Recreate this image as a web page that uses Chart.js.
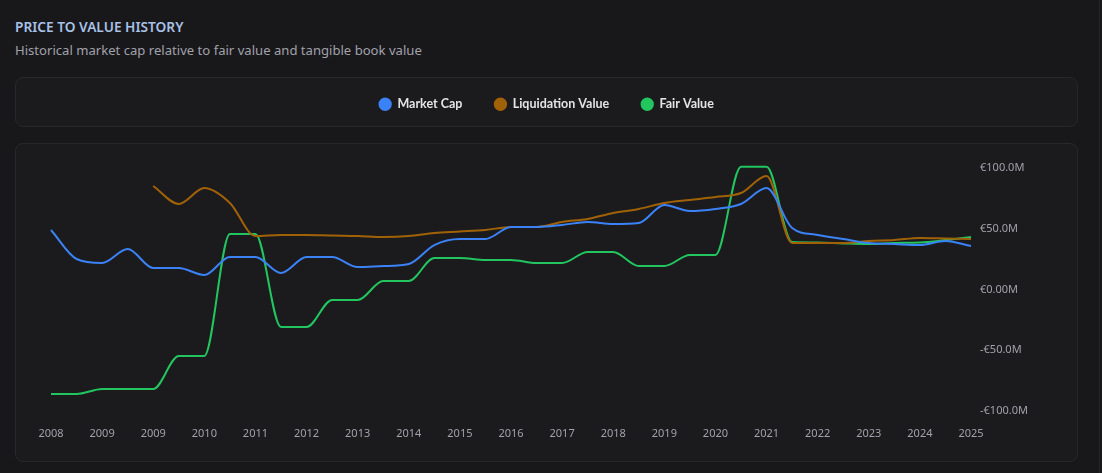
<!DOCTYPE html>
<html>
<head>
<meta charset="utf-8">
<script src="https://cdn.jsdelivr.net/npm/chart.js@4"></script>
<style>
  html, body { margin: 0; padding: 0; background: #18181b; width: 1102px; height: 473px; overflow: hidden; font-family: "Noto Sans", "Open Sans", sans-serif; }
  .title { position: absolute; left: 15px; top: 17px; font-size: 13.7px; font-weight: 600; color: #a8c1e6; }
  .subtitle { position: absolute; left: 15px; top: 41px; font-size: 13.1px; color: #a1a1aa; }
  .box { position: absolute; left: 15px; width: 1061px; background: #1b1b1e; border: 1px solid #28282c; border-radius: 8px; }
  .legendbox { top: 77px; height: 48px; }
  .chartbox { top: 143px; height: 317px; }
  .vline { position: absolute; left: 1099px; top: 0; width: 1px; height: 473px; background: #242428; }
  .wrap { position: absolute; left: 15px; top: 66px; width: 1063px; height: 396px; }
</style>
</head>
<body>
<div class="title">PRICE TO VALUE HISTORY</div>
<div class="subtitle">Historical market cap relative to fair value and tangible book value</div>
<div class="box legendbox"></div>
<div class="box chartbox"></div>
<div class="vline"></div>
<div class="wrap"><canvas id="c"></canvas></div>
<script>
const labels = ['2008','2008','2009','2009','2009','2009','2010','2010','2011','2011','2012','2012','2013','2013','2014','2014','2015','2015','2016','2016','2017','2017','2018','2018','2019','2019','2020','2020','2021','2021','2022','2022','2023','2023','2024','2024','2025'];

// values in € millions
const marketCap = [49.0,25.1,21.8,33.3,17.7,17.7,11.9,26.7,26.7,13.6,26.7,26.7,18.5,19.3,21.0,36.6,41.6,41.6,51.4,51.4,53.1,55.6,53.9,54.7,69.5,64.6,66.3,70.4,83.5,50.6,44.9,41.6,38.3,37.4,36.6,39.9,35.8];
const liquidationValue = [null,null,null,null,85.2,70.4,83.5,71.2,44.0,44.9,44.9,44.4,44.0,43.2,44.0,46.5,47.7,49.0,51.4,51.4,55.6,58.0,63.0,66.3,71.2,73.7,76.1,79.4,93.4,38.3,38.3,38.3,39.9,40.7,42.4,42.0,41.6];
const fairValue = [-86.0,-86.0,-81.9,-81.9,-81.9,-54.7,-54.7,45.7,45.7,-30.9,-30.9,-8.6,-8.6,7.0,7.0,25.9,25.9,24.3,24.3,21.8,21.8,30.9,30.9,19.3,19.3,28.4,28.4,101.0,101.0,39.1,38.7,37.9,37.4,38.3,38.7,40.7,43.2];

const yTicks = [-100, -50, 0, 50, 100];

function fmt(v) {
  if (v === 0) return '€0.00M';
  return (v < 0 ? '-' : '') + '€' + Math.abs(v).toFixed(1) + 'M';
}

const legendHeightPlugin = {
  id: 'legendHeight',
  beforeInit(chart) {
    const lg = chart.legend;
    if (!lg) return;
    const orig = lg.fit;
    lg.fit = function () { orig.call(this); this.height = 102; };
  }
};

const FONT = "'Noto Sans', 'Open Sans', sans-serif";

new Chart(document.getElementById('c'), {
  type: 'line',
  data: {
    labels: labels,
    datasets: [
      { label: 'Market Cap', data: marketCap, borderColor: '#3b82f6', backgroundColor: '#3b82f6' },
      { label: 'Liquidation Value', data: liquidationValue, borderColor: '#a16207', backgroundColor: '#a16207' },
      { label: 'Fair Value', data: fairValue, borderColor: '#22c55e', backgroundColor: '#22c55e' }
    ].map(d => Object.assign(d, { borderWidth: 2, pointRadius: 0, pointHoverRadius: 0, cubicInterpolationMode: 'monotone', fill: false, clip: false }))
  },
  options: {
    responsive: true,
    maintainAspectRatio: false,
    animation: false,
    layout: { padding: 0 },
    plugins: {
      legend: {
        position: 'top',
        labels: {
          usePointStyle: true,
          pointStyle: 'circle',
          boxWidth: 12,
          boxHeight: 8,
          padding: 32,
          color: '#e4e4e7',
          font: { family: "Lato, 'Noto Sans', sans-serif", size: 12.5, weight: 'bold' }
        }
      },
      tooltip: { enabled: false }
    },
    scales: {
      x: {
        type: 'category',
        offset: false,
        grid: { display: false, drawTicks: false },
        border: { display: false },
        ticks: {
          autoSkip: false,
          maxRotation: 0,
          padding: 16,
          color: '#a1a1aa',
          font: { family: FONT, size: 11 },
          callback: (v, i) => (i % 2 === 0 ? labels[i] : '')
        },
        afterFit(s) { s.height = 51; }
      },
      y: {
        position: 'right',
        min: yTicks[0],
        max: yTicks[yTicks.length - 1],
        grid: { display: false, drawTicks: false },
        border: { display: false },
        afterBuildTicks(s) { s.ticks = yTicks.map(v => ({ value: v })); },
        ticks: {
          padding: 9,
          color: '#a1a1aa',
          font: { family: FONT, size: 11 },
          callback: v => fmt(v)
        },
        afterFit(s) { s.width = 107; }
      },
      spacer: {
        position: 'left',
        min: yTicks[0],
        max: yTicks[yTicks.length - 1],
        grid: { display: false, drawTicks: false },
        border: { display: false },
        ticks: { display: false },
        afterFit(s) { s.width = 36; }
      }
    }
  },
  plugins: [legendHeightPlugin]
});
</script>
</body>
</html>
